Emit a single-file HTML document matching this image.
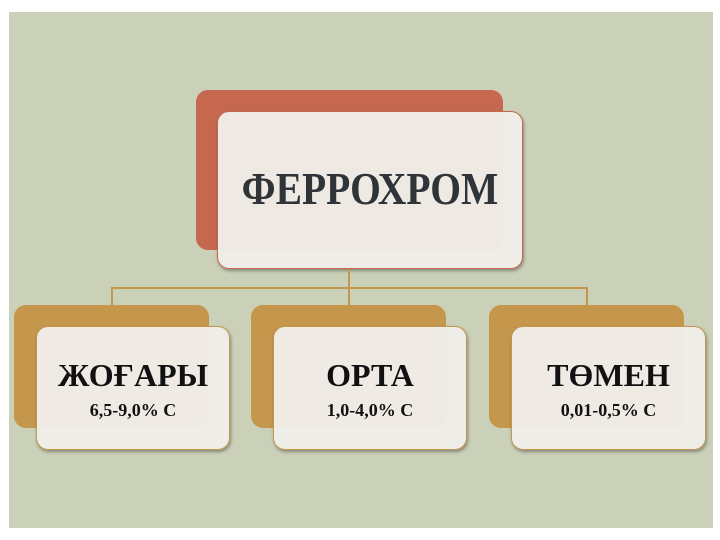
<!DOCTYPE html>
<html><head><meta charset="utf-8"><style>
body{margin:0;width:720px;height:540px;background:#fff;position:relative;overflow:hidden;font-family:"Liberation Serif",serif;}
.bg{position:absolute;left:9px;top:12px;width:704px;height:516px;background:#cbd1b9;}
.b{position:absolute;border-radius:12px;}
.f{position:absolute;border-radius:12px;background:rgba(240,238,234,0.96);box-shadow:1px 2px 3px rgba(0,0,0,0.35);text-align:center;color:#111;font-weight:bold;}
.l{position:absolute;background:#c4974c;}
.t{font-size:32px;position:absolute;left:0;right:0;top:30px;}
.s{font-size:18px;position:absolute;left:0;right:0;top:73px;}
</style></head><body>
<div class="bg"></div>
<div class="b" style="left:196px;top:90px;width:307px;height:160px;background:#c5684f"></div>
<div class="f" style="left:217px;top:111px;width:306px;height:158px;border:1px solid #c5684f;box-sizing:border-box;color:#2e3438;">
<div style="position:absolute;left:0;right:0;top:50px;font-size:46px;transform:scaleX(0.86);">ФЕРРОХРОМ</div></div>
<div class="l" style="left:348px;top:269px;width:1.5px;height:18px"></div>
<div class="l" style="left:111px;top:287px;width:477px;height:1.5px"></div>
<div class="l" style="left:111px;top:287px;width:1.5px;height:18px"></div>
<div class="l" style="left:348px;top:287px;width:1.5px;height:18px"></div>
<div class="l" style="left:586px;top:287px;width:1.5px;height:18px"></div>

<div class="b" style="left:14px;top:305px;width:195px;height:123px;background:#c4974c"></div>
<div class="f" style="left:36px;top:326px;width:194px;height:124px;border:1px solid #c4974c;box-sizing:border-box"><div class="t">ЖОҒАРЫ</div><div class="s">6,5-9,0% C</div></div>
<div class="b" style="left:251px;top:305px;width:195px;height:123px;background:#c4974c"></div>
<div class="f" style="left:273px;top:326px;width:194px;height:124px;border:1px solid #c4974c;box-sizing:border-box"><div class="t">ОРТА</div><div class="s">1,0-4,0% C</div></div>
<div class="b" style="left:489px;top:305px;width:195px;height:123px;background:#c4974c"></div>
<div class="f" style="left:511px;top:326px;width:195px;height:124px;border:1px solid #c4974c;box-sizing:border-box"><div class="t">ТӨМЕН</div><div class="s">0,01-0,5% C</div></div>
</body></html>
